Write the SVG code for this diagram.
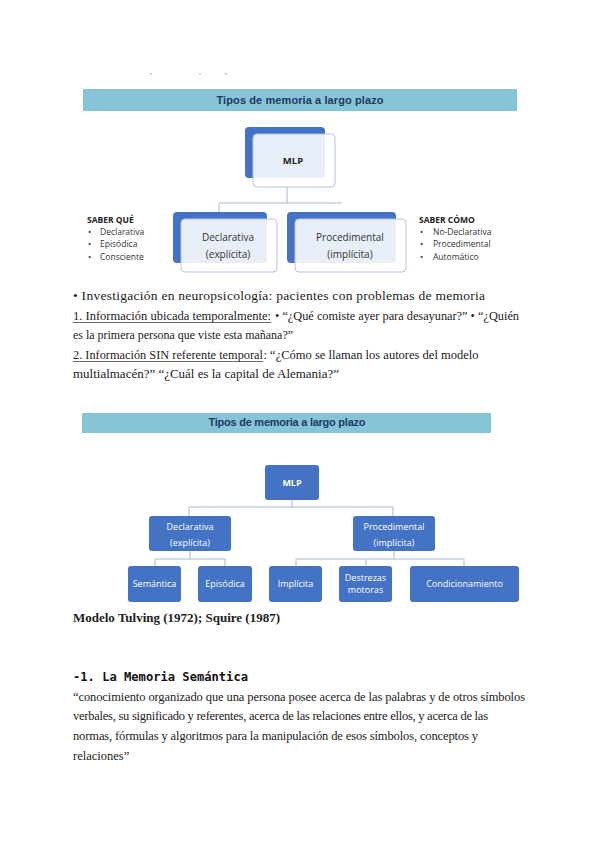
<svg xmlns="http://www.w3.org/2000/svg" width="599" height="848" viewBox="0 0 599 848">
<style>
.banner{fill:#86c5d7}
.btitle{font-family:"Liberation Sans",Arial,sans-serif;font-weight:bold;font-size:11px;fill:#1f3864;text-anchor:middle}
.dark{fill:#4472c4}
.front{fill:#ffffff;fill-opacity:0.88;stroke:#b4c3e2;stroke-width:1}
.t1{font-family:"Open Sans","Liberation Sans",sans-serif;font-size:10px;fill:#333;text-anchor:middle}
.t1b{font-family:"Open Sans","Liberation Sans",sans-serif;font-size:9.5px;font-weight:bold;fill:#222;text-anchor:middle}
.side{font-family:"Open Sans","Liberation Sans",sans-serif;font-size:8.5px;fill:#333}
.sideb{font-family:"Open Sans","Liberation Sans",sans-serif;font-size:8.5px;font-weight:bold;fill:#222}
.box{fill:#4472c4}
.t2{font-family:"Open Sans","Liberation Sans",sans-serif;font-size:9px;fill:#fff;text-anchor:middle}
.t2b{font-family:"Open Sans","Liberation Sans",sans-serif;font-size:9px;font-weight:bold;fill:#fff;text-anchor:middle}
.conn{fill:none;stroke:#a8b6d2;stroke-width:1}
.body{font-family:"Liberation Serif","Times New Roman",serif;font-size:13.5px;fill:#222}
.body2{font-family:"Liberation Serif","Times New Roman",serif;font-size:12.5px;fill:#222}
.ul{stroke:#444;stroke-width:0.8}
.head{font-family:"DejaVu Sans Mono","Liberation Mono",monospace;font-weight:bold;font-size:12.5px;fill:#111}
</style>

<g id="dots" fill="#c8c8c8">
<rect x="150" y="73" width="2" height="1.5"/>
<rect x="199" y="73" width="2" height="1.5"/>
<rect x="225" y="73" width="2" height="1.5"/>
</g>

<!-- Diagram 1 -->
<g id="banner1">
<rect class="banner" x="83" y="89" width="434" height="22"/>
<text class="btitle" x="300" y="104" textLength="167">Tipos de memoria a largo plazo</text>
</g>

<g id="connectors1">
<path class="conn" d="M287 187 V203 M219 203 H342 M219 203 V212"/>
</g>

<g id="mlp1">
<rect class="dark" x="245" y="127" width="80" height="51" rx="4"/>
<rect class="front" x="253" y="134" width="82" height="53" rx="4"/>
<text class="t1b" x="293" y="164">MLP</text>
</g>

<g id="declarativa1">
<rect class="dark" x="173" y="212" width="94" height="51" rx="4"/>
<rect class="front" x="181" y="219" width="96" height="53" rx="4"/>
<text class="t1" x="228" y="241">Declarativa</text>
<text class="t1" x="228" y="258">(explícita)</text>
</g>

<g id="procedimental1">
<rect class="dark" x="287" y="212" width="109" height="51" rx="4"/>
<rect class="front" x="295" y="219" width="111" height="53" rx="4"/>
<text class="t1" x="350" y="241">Procedimental</text>
<text class="t1" x="350" y="258">(implícita)</text>
</g>

<g id="saberque">
<text class="sideb" x="87" y="223">SABER QUÉ</text>
<text class="side" x="88" y="235">•</text><text class="side" x="100" y="235">Declarativa</text>
<text class="side" x="88" y="247">•</text><text class="side" x="100" y="247">Episódica</text>
<text class="side" x="88" y="260">•</text><text class="side" x="100" y="260">Consciente</text>
</g>

<g id="sabercomo">
<text class="sideb" x="419" y="223">SABER CÓMO</text>
<text class="side" x="420" y="235">•</text><text class="side" x="433" y="235">No-Declarativa</text>
<text class="side" x="420" y="247">•</text><text class="side" x="433" y="247">Procedimental</text>
<text class="side" x="420" y="260">•</text><text class="side" x="433" y="260">Automático</text>
</g>

<!-- Paragraph 1 -->
<g id="para1">
<text class="body" x="73" y="300" textLength="412">• Investigación en neuropsicología: pacientes con problemas de memoria</text>
<text class="body" x="73" y="319.5" textLength="198" lengthAdjust="spacingAndGlyphs">1. Información ubicada temporalmente:</text>
<line class="ul" x1="73" y1="322.5" x2="271" y2="322.5"/>
<text class="body" x="275" y="319.5" textLength="244" lengthAdjust="spacingAndGlyphs">• “¿Qué comiste ayer para desayunar?” • “¿Quién</text>
<text class="body" x="73" y="339" textLength="220" lengthAdjust="spacingAndGlyphs">es la primera persona que viste esta mañana?”</text>
<text class="body" x="73" y="358.5" textLength="190" lengthAdjust="spacingAndGlyphs">2. Información SIN referente temporal</text>
<line class="ul" x1="73" y1="361.5" x2="263" y2="361.5"/>
<text class="body" x="263.5" y="358.5" textLength="215" lengthAdjust="spacingAndGlyphs">: “¿Cómo se llaman los autores del modelo</text>
<text class="body" x="73" y="378" textLength="266" lengthAdjust="spacingAndGlyphs">multialmacén?” “¿Cuál es la capital de Alemania?”</text>
</g>

<!-- Diagram 2 -->
<g id="banner2">
<rect class="banner" x="82" y="413" width="409" height="20"/>
<text class="btitle" x="287" y="426" textLength="157">Tipos de memoria a largo plazo</text>
</g>

<g id="connectors2">
<path class="conn" d="M292 500 V507 M189 507 H393 M189 507 V516 M393 507 V516"/>
<path class="conn" d="M190 551 V559 M155 559 H225 M155 559 V566 M225 559 V566"/>
<path class="conn" d="M394 551 V559 M296 559 H464 M296 559 V566 M366 559 V566 M464 559 V566"/>
</g>

<g id="mlp2">
<rect class="box" x="265" y="465" width="54" height="35" rx="3"/>
<text class="t2b" x="292" y="486">MLP</text>
</g>
<g id="declarativa2">
<rect class="box" x="149" y="516" width="82" height="35" rx="3"/>
<text class="t2" x="190" y="530">Declarativa</text>
<text class="t2" x="190" y="546">(explícita)</text>
</g>
<g id="procedimental2">
<rect class="box" x="353" y="516" width="82" height="35" rx="3"/>
<text class="t2" x="394" y="530">Procedimental</text>
<text class="t2" x="394" y="546">(implícita)</text>
</g>
<g id="semantica">
<rect class="box" x="128" y="566" width="53" height="36" rx="3"/>
<text class="t2" x="154.5" y="587">Semántica</text>
</g>
<g id="episodica">
<rect class="box" x="198" y="566" width="54" height="36" rx="3"/>
<text class="t2" x="225" y="587">Episódica</text>
</g>
<g id="implicita">
<rect class="box" x="269" y="566" width="53" height="36" rx="3"/>
<text class="t2" x="295.5" y="587">Implícita</text>
</g>
<g id="destrezas">
<rect class="box" x="339" y="566" width="53" height="36" rx="3"/>
<text class="t2" x="365.5" y="581">Destrezas</text>
<text class="t2" x="365.5" y="593">motoras</text>
</g>
<g id="condicionamiento">
<rect class="box" x="410" y="566" width="109" height="36" rx="3"/>
<text class="t2" x="464.5" y="587">Condicionamiento</text>
</g>

<text class="body" x="73" y="622" font-weight="bold" textLength="207" lengthAdjust="spacingAndGlyphs">Modelo Tulving (1972); Squire (1987)</text>

<!-- Section -->
<text class="head" x="73" y="681" textLength="175" lengthAdjust="spacingAndGlyphs">-1. La Memoria Semántica</text>
<g id="quote">
<text class="body2" x="73" y="700.5" textLength="452">“conocimiento organizado que una persona posee acerca de las palabras y de otros símbolos</text>
<text class="body2" x="73" y="720" textLength="415">verbales, su significado y referentes, acerca de las relaciones entre ellos, y acerca de las</text>
<text class="body2" x="73" y="740" textLength="405">normas, fórmulas y algoritmos para la manipulación de esos símbolos, conceptos y</text>
<text class="body2" x="73" y="759.5">relaciones”</text>
</g>
</svg>
